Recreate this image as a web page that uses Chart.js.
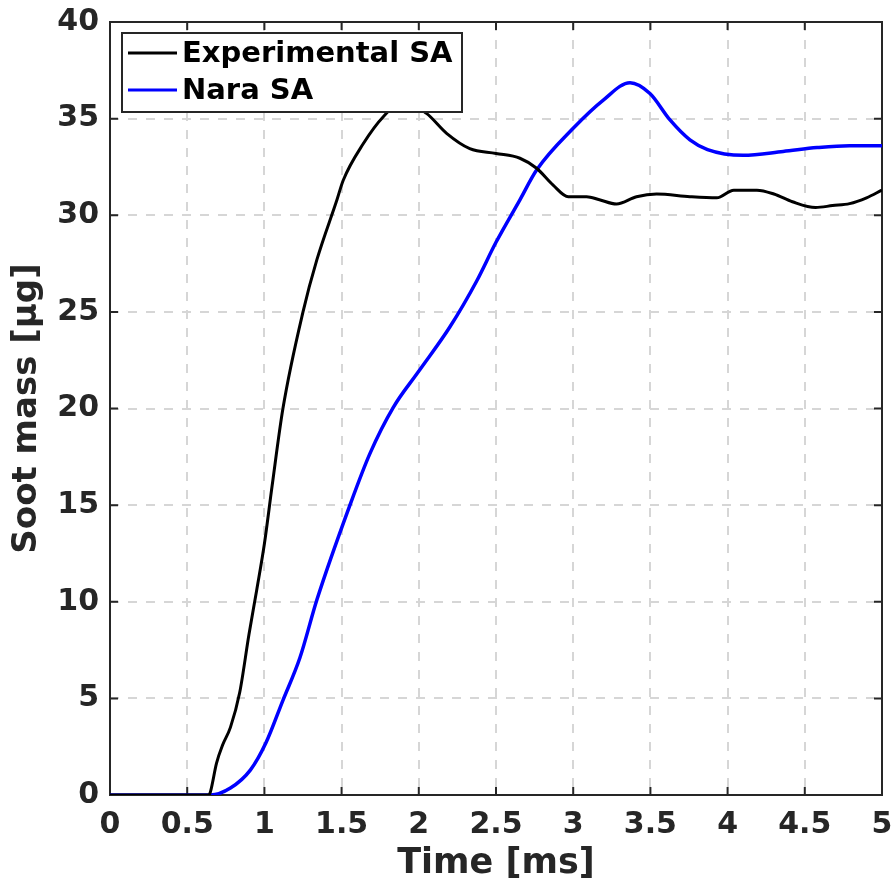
<!DOCTYPE html>
<html>
<head>
<meta charset="utf-8">
<script src="https://cdn.jsdelivr.net/npm/chart.js@4.4.0/dist/chart.umd.min.js"></script>
<style>
  html, body { margin: 0; padding: 0; background: #fff; }
  #wrap { width: 894px; height: 885px; }
</style>
</head>
<body>
<div id="wrap"><canvas id="myChart"></canvas></div>
<script>
"use strict";
// experimental soot mass (black)
const expTime = [0, 0.64, 0.65, 0.69, 0.73, 0.78, 0.84, 0.90, 0.95, 1.0, 1.05, 1.12, 1.25, 1.34, 1.47, 1.51, 1.64, 1.77, 1.9, 2.05, 2.18, 2.33, 2.5, 2.655, 2.763, 2.87, 2.968, 3.087, 3.17, 3.28, 3.41, 3.54, 3.756, 3.93, 4.04, 4.19, 4.30, 4.42, 4.57, 4.68, 4.79, 4.90, 5.0];
const expMass = [0, 0, 0.15, 1.65, 2.6, 3.5, 5.3, 8.3, 10.6, 13.0, 16.0, 20, 25, 27.7, 30.8, 31.8, 33.7, 35.1, 35.9, 35.27, 34.24, 33.45, 33.2, 32.95, 32.43, 31.56, 30.96, 30.96, 30.8, 30.58, 30.96, 31.1, 30.96, 30.9, 31.3, 31.3, 31.1, 30.7, 30.4, 30.5, 30.6, 30.9, 31.3];
// Nara model (blue)
const naraTime = [0, 0.65, 0.78, 0.91, 1.01, 1.12, 1.23, 1.34, 1.554, 1.684, 1.835, 1.997, 2.202, 2.375, 2.5, 2.655, 2.763, 3.0, 3.195, 3.368, 3.497, 3.627, 3.756, 3.87, 4.10, 4.36, 4.58, 4.79, 5.0];
const naraMass = [0, 0, 0.36, 1.3, 2.7, 4.9, 7.1, 10.1, 15, 17.68, 20.06, 21.9, 24.23, 26.6, 28.6, 30.8, 32.34, 34.5, 35.96, 36.86, 36.3, 34.93, 33.9, 33.4, 33.1, 33.3, 33.5, 33.6, 33.6];
const seriesNames = ["Experimental SA", "Nara SA"];
const xTicks = [0, 0.5, 1, 1.5, 2, 2.5, 3, 3.5, 4, 4.5, 5];
const yTicks = [0, 5, 10, 15, 20, 25, 30, 35, 40];

const textColor = "#262626";
const toPoints = (xs, ys) => xs.map((x, i) => ({ x: x, y: ys[i] }));

// axes box with inward ticks
const boxPlugin = {
  id: "box",
  beforeDatasetsDraw(chart) {
    const { ctx, chartArea: a, scales } = chart;
    ctx.save();
    ctx.strokeStyle = textColor;
    ctx.lineWidth = 2;
    ctx.beginPath();
    xTicks.forEach((t) => {
      const px = scales.x.getPixelForValue(t);
      ctx.moveTo(px, a.bottom); ctx.lineTo(px, a.bottom - 8);
      ctx.moveTo(px, a.top); ctx.lineTo(px, a.top + 8);
    });
    yTicks.forEach((t) => {
      const py = scales.y.getPixelForValue(t);
      ctx.moveTo(a.left, py); ctx.lineTo(a.left + 8, py);
      ctx.moveTo(a.right, py); ctx.lineTo(a.right - 8, py);
    });
    ctx.stroke();
    ctx.strokeRect(a.left, a.top, a.right - a.left, a.bottom - a.top);
    ctx.restore();
  },
};

// legend box inside the plot, upper left
const legendPlugin = {
  id: "insideLegend",
  afterDatasetsDraw(chart) {
    const { ctx, chartArea: a } = chart;
    const x0 = a.left + 12, y0 = a.top + 11, w = 340, h = 79;
    ctx.save();
    ctx.fillStyle = "#fff";
    ctx.fillRect(x0, y0, w, h);
    ctx.strokeStyle = textColor;
    ctx.lineWidth = 2;
    ctx.strokeRect(x0, y0, w, h);
    ctx.font = "bold 29px 'DejaVu Sans'";
    ctx.textBaseline = "middle";
    chart.data.datasets.forEach((ds, i) => {
      const y = y0 + 20 + i * 37;
      ctx.strokeStyle = ds.borderColor;
      ctx.lineWidth = 3;
      ctx.beginPath();
      ctx.moveTo(x0 + 6, y); ctx.lineTo(x0 + 55, y);
      ctx.stroke();
      ctx.fillStyle = "#000";
      ctx.fillText(ds.label, x0 + 60, y + 1);
    });
    ctx.restore();
  },
};

new Chart(document.getElementById("myChart"), {
  type: "line",
  data: {
    datasets: [
      {
        label: seriesNames[0],
        data: toPoints(expTime, expMass),
        borderColor: "#000000",
        borderWidth: 3,
        pointRadius: 0,
        cubicInterpolationMode: "monotone",
      },
      {
        label: seriesNames[1],
        data: toPoints(naraTime, naraMass),
        borderColor: "#0000ff",
        borderWidth: 3.5,
        pointRadius: 0,
        cubicInterpolationMode: "monotone",
      },
    ],
  },
  plugins: [boxPlugin, legendPlugin],
  options: {
    responsive: true,
    maintainAspectRatio: false,
    animation: false,
    layout: { padding: { top: 22, right: 12, left: 0, bottom: 0 } },
    plugins: {
      legend: { display: false },
      tooltip: { enabled: false },
    },
    scales: {
      x: {
        type: "linear",
        min: 0,
        max: 5,
        afterFit: (scale) => {
          scale.height = 90;
          scale.paddingLeft = 0;
          scale.paddingRight = 0;
        },
        afterBuildTicks: (scale) => { scale.ticks = xTicks.map((v) => ({ value: v })); },
        ticks: {
          padding: 12,
          color: textColor,
          font: { family: "'DejaVu Sans'", weight: "bold", size: 30 },
          callback: (v) => String(v),
          maxRotation: 0,
        },
        grid: { color: "#d6d6d6", lineWidth: 2, drawTicks: false },
        border: { display: false, dash: [9, 9] },
        title: {
          display: true,
          text: "Time [ms]",
          color: textColor,
          font: { family: "'DejaVu Sans'", weight: "bold", size: 35 },
          padding: { top: 0, bottom: 0 },
        },
      },
      y: {
        min: 0,
        max: 40,
        afterFit: (scale) => {
          scale.width = 110;
          scale.paddingTop = 0;
          scale.paddingBottom = 0;
        },
        afterBuildTicks: (scale) => { scale.ticks = yTicks.map((v) => ({ value: v })); },
        ticks: {
          padding: 11,
          color: textColor,
          font: { family: "'DejaVu Sans'", weight: "bold", size: 30 },
        },
        grid: { color: "#d6d6d6", lineWidth: 2, drawTicks: false },
        border: { display: false, dash: [9, 9] },
        title: {
          display: true,
          text: "Soot mass [\u03bcg]",
          color: textColor,
          font: { family: "'DejaVu Sans'", weight: "bold", size: 34 },
          padding: { top: 7, bottom: 0 },
        },
      },
    },
  },
});
</script>
</body>
</html>
